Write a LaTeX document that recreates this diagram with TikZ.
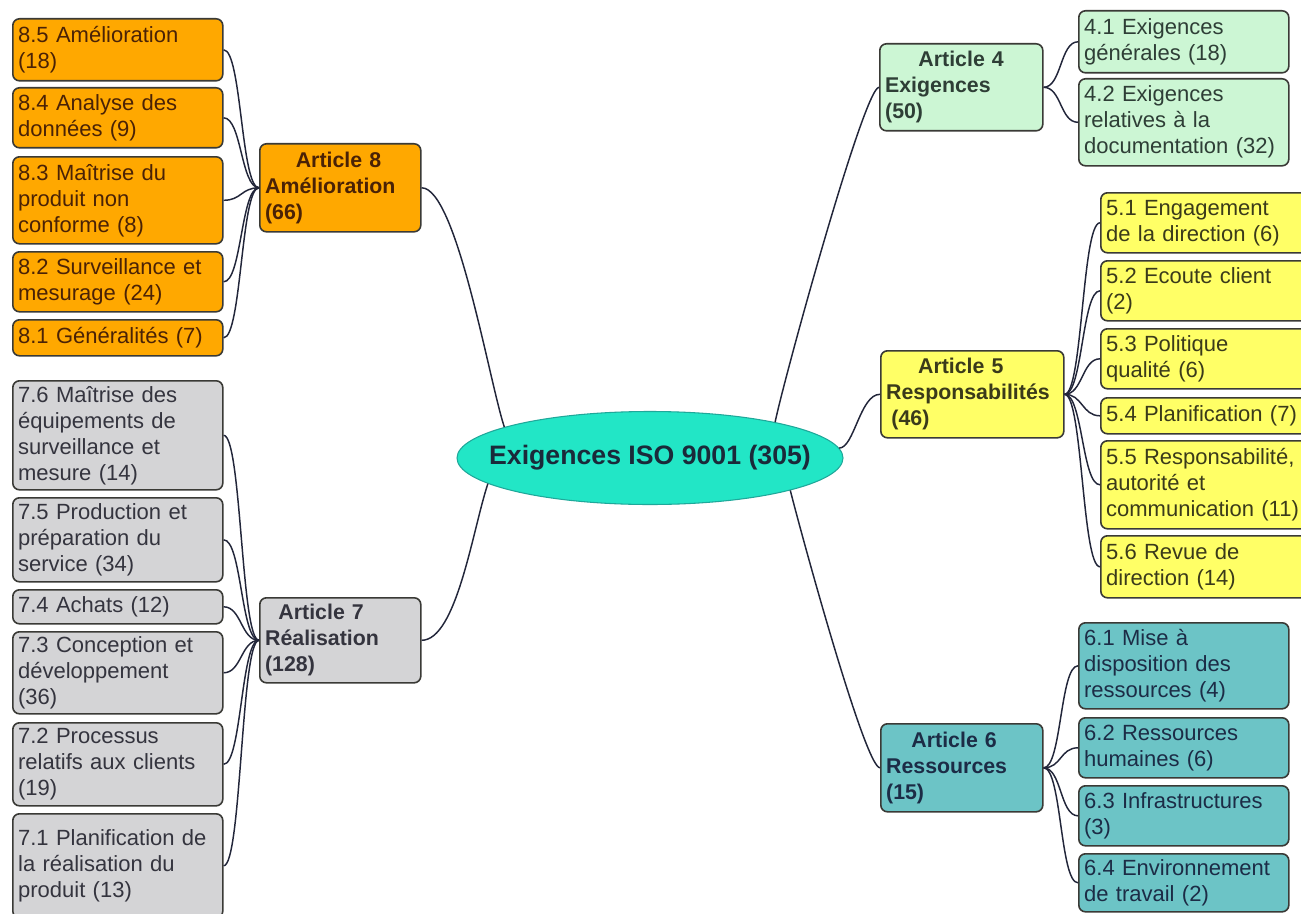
\documentclass[tikz,border=0pt]{standalone}
\usepackage{fontspec}
\setmainfont{Liberation Sans}
\usetikzlibrary{shapes.geometric}

\definecolor{orangefill}{HTML}{FFA800}
\definecolor{orangetext}{HTML}{4A2206}
\definecolor{greyfill}{HTML}{D4D4D6}
\definecolor{greytext}{HTML}{34343E}
\definecolor{greenfill}{HTML}{CCF6D4}
\definecolor{greentext}{HTML}{2E3E36}
\definecolor{yellowfill}{HTML}{FFFF66}
\definecolor{yellowtext}{HTML}{3A3A1A}
\definecolor{tealfill}{HTML}{6CC4C6}
\definecolor{tealtext}{HTML}{1C2C46}
\definecolor{rootfill}{HTML}{22E6C6}
\definecolor{rootedge}{HTML}{1FA89A}
\definecolor{roottext}{HTML}{1A2A3A}
\definecolor{boxedge}{HTML}{3A3A36}
\definecolor{linkcol}{HTML}{22263A}

\begin{document}
\begin{tikzpicture}[x=0.75pt,y=-0.75pt,
  mmbox/.style={draw=boxedge, line width=1.2pt, rounded corners=5pt,
    anchor=north west, align=left, inner xsep=4pt, inner ysep=0pt,
    font=\fontsize{16.5}{19.5}\selectfont},
  head/.style={mmbox, font=\bfseries\fontsize{16}{19.5}\selectfont},
  leafL/.style={mmbox, minimum width=157.5pt, text width=149.5pt},
  leafR/.style={mmbox, minimum width=157.5pt, text width=149.5pt},
  leafY/.style={mmbox, minimum width=165pt, text width=157pt},
  orange/.style={fill=orangefill, text=orangetext},
  grey/.style={fill=greyfill, text=greytext},
  green/.style={fill=greenfill, text=greentext},
  yellow/.style={fill=yellowfill, text=yellowtext},
  teal/.style={fill=tealfill, text=tealtext},
  link/.style={draw=linkcol, line width=1.1pt}]

\useasboundingbox (0,0) rectangle (1301,913);
\fill[white] (0,0) rectangle (1301,913);
\clip (0,0) rectangle (1301,913);

% central topic (the label is boxed at zero width so the ellipse keeps its set size)
\node[ellipse, draw=rootedge, line width=0.8pt, fill=rootfill,
  minimum width=289.5pt, minimum height=69.75pt, inner sep=0pt,
  font=\bfseries\fontsize{20}{24}\selectfont, text=roottext]
  (root) at (650,458) {\makebox[0pt]{Exigences ISO 9001 (305)}};

% Article 8 branch
\node[head, orange, minimum width=120.75pt, text width=112.75pt, minimum height=66pt]
  (a8) at (259,143) {\hspace*{23pt}Article 8\\Amélioration\\(66)};
\node[leafL, orange, minimum height=46.5pt] (o85) at (12,18) {8.5 Amélioration\\(18)};
\node[leafL, orange, minimum height=45pt] (o84) at (12,87) {8.4 Analyse des\\données (9)};
\node[leafL, orange, minimum height=65.25pt] (o83) at (12,156) {8.3 Maîtrise du\\produit non\\conforme (8)};
\node[leafL, orange, minimum height=45pt] (o82) at (12,251) {8.2 Surveillance et\\mesurage (24)};
\node[leafL, orange, minimum height=27pt] (o81) at (12,319) {8.1 Généralités (7)};

% Article 7 branch
\node[head, grey, minimum width=120.75pt, text width=112.75pt, minimum height=63.75pt]
  (a7) at (259,597) {\hspace*{10pt}Article 7\\Réalisation\\(128)};
\node[leafL, grey, minimum height=81.75pt] (g76) at (12,380) {7.6 Maîtrise des\\équipements de\\surveillance et\\mesure (14)};
\node[leafL, grey, minimum height=63pt] (g75) at (12,497) {7.5 Production et\\préparation du\\service (34)};
\node[leafL, grey, minimum height=25.5pt] (g74) at (12,589) {7.4 Achats (12)};
\node[leafL, grey, minimum height=61.5pt] (g73) at (12,631) {7.3 Conception et\\développement\\(36)};
\node[leafL, grey, minimum height=62.25pt] (g72) at (12,722) {7.2 Processus\\relatifs aux clients\\(19)};
\node[leafL, grey, minimum height=78pt] (g71) at (12,813) {7.1 Planification de\\la réalisation du\\produit (13)};

% Article 4 branch
\node[head, green, minimum width=122.25pt, text width=114.25pt, minimum height=65.25pt]
  (a4) at (879,43) {\hspace*{25pt}Article 4\\Exigences\\(50)};
\node[leafR, green, minimum height=46.5pt] (e41) at (1078,10) {4.1 Exigences\\générales (18)};
\node[leafR, green, minimum height=65.25pt] (e42) at (1078,78) {4.2 Exigences\\relatives à la\\documentation (32)};

% Article 5 branch
\node[head, yellow, minimum width=137.25pt, text width=129.25pt, minimum height=65.25pt]
  (a5) at (880,350) {\hspace*{24pt}Article 5\\Responsabilités\\\hspace*{4pt}(46)};
\node[leafY, yellow, minimum height=45pt] (y51) at (1100,192) {5.1 Engagement\\de la direction (6)};
\node[leafY, yellow, minimum height=45pt] (y52) at (1100,260) {5.2 Ecoute client\\(2)};
\node[leafY, yellow, minimum height=45pt] (y53) at (1100,328) {5.3 Politique\\qualité (6)};
\node[leafY, yellow, minimum height=27pt] (y54) at (1100,397) {5.4 Planification (7)};
\node[leafY, yellow, minimum height=66pt] (y55) at (1100,440) {5.5 Responsabilité,\\autorité et\\communication (11)};
\node[leafY, yellow, minimum height=46.5pt] (y56) at (1100,535) {5.6 Revue de\\direction (14)};

% Article 6 branch
\node[head, teal, minimum width=121.5pt, text width=113.5pt, minimum height=66pt]
  (a6) at (880,723) {\hspace*{19pt}Article 6\\Ressources\\(15)};
\node[leafR, teal, minimum height=64.5pt] (t61) at (1078,622) {6.1 Mise à\\disposition des\\ressources (4)};
\node[leafR, teal, minimum height=45pt] (t62) at (1078,717) {6.2 Ressources\\humaines (6)};
\node[leafR, teal, minimum height=45pt] (t63) at (1078,785) {6.3 Infrastructures\\(3)};
\node[leafR, teal, minimum height=43.5pt] (t64) at (1078,853) {6.4 Environnement\\de travail (2)};

% links from the central topic to the articles
\draw[link] (a8.east) .. controls +(35,0) and +(-15,-45) .. (root.168);
\draw[link] (a7.east) .. controls +(35,0) and +(-15,45) .. (root.189);
\draw[link] (root.16) .. controls +(8,-40) and +(-15,0) .. (a4.west);
\draw[link] (root.3) .. controls +(15,0) and +(-20,0) .. (a5.west);
\draw[link] (root.-13) .. controls +(10,40) and +(-15,0) .. (a6.west);

% links from the articles to their clauses
\foreach \c in {o85,o84,o83,o82,o81}
  \draw[link] (a8.west) .. controls +(-18,0) and +(18,0) .. (\c.east);
\foreach \c in {g76,g75,g74,g73,g72,g71}
  \draw[link] (a7.west) .. controls +(-18,0) and +(18,0) .. (\c.east);
\foreach \c in {e41,e42}
  \draw[link] (a4.east) .. controls +(18,0) and +(-18,0) .. (\c.west);
\foreach \c in {y51,y52,y53,y54,y55,y56}
  \draw[link] (a5.east) .. controls +(18,0) and +(-18,0) .. (\c.west);
\foreach \c in {t61,t62,t63,t64}
  \draw[link] (a6.east) .. controls +(18,0) and +(-18,0) .. (\c.west);
\end{tikzpicture}
\end{document}
